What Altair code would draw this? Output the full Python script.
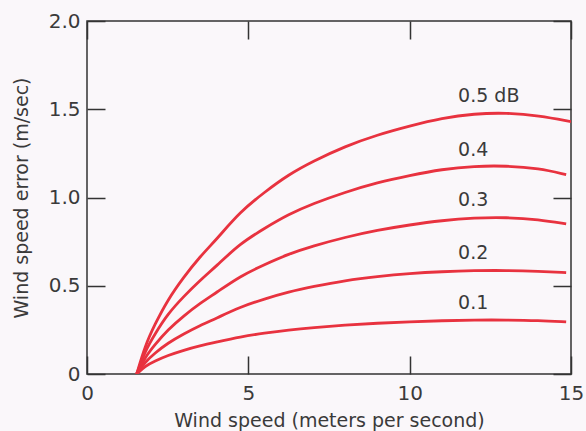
import altair as alt
import pandas as pd

# Wind speed (m/s) sample positions
wind = [1.54, 1.8, 2.1, 2.5, 3.0, 3.5, 4.0, 4.75, 5.5, 6.25, 7.0, 8.0, 9.0, 10.0, 11.0, 12.0, 13.0, 14.0]
err_05 = [0, 0.16, 0.28, 0.42, 0.55, 0.665, 0.76, 0.92, 1.03, 1.13, 1.205, 1.29, 1.355, 1.405, 1.45, 1.475, 1.48, 1.465]
err_04 = [0, 0.13, 0.225, 0.34, 0.44, 0.53, 0.61, 0.74, 0.825, 0.905, 0.965, 1.03, 1.085, 1.125, 1.16, 1.178, 1.18, 1.165]
err_03 = [0, 0.095, 0.165, 0.25, 0.33, 0.40, 0.46, 0.555, 0.62, 0.68, 0.725, 0.775, 0.815, 0.845, 0.87, 0.885, 0.888, 0.875]
err_02 = [0, 0.068, 0.118, 0.175, 0.228, 0.275, 0.315, 0.38, 0.425, 0.465, 0.495, 0.53, 0.553, 0.57, 0.58, 0.586, 0.587, 0.582]
err_01 = [0, 0.045, 0.073, 0.105, 0.135, 0.16, 0.18, 0.21, 0.232, 0.25, 0.263, 0.277, 0.288, 0.296, 0.302, 0.306, 0.306, 0.303]

# last point of each curve
end_x = [15.0, 14.85, 14.85, 14.85, 14.85]
end_y = [1.43, 1.13, 0.85, 0.574, 0.295]

series_names = ["0.5 dB", "0.4", "0.3", "0.2", "0.1"]
series_values = [err_05, err_04, err_03, err_02, err_01]

label_x = [11.5, 11.5, 11.5, 11.5, 11.5]
label_y = [1.575, 1.27, 0.985, 0.685, 0.40]

x_label_values = [0, 5, 10, 15]
y_label_values = [0, 0.5, 1.0, 1.5, 2.0]

X_MIN, X_MAX = 0, 15
Y_MIN, Y_MAX = 0, 2.0
W, H = 484, 353
TL = 18  # inward tick length, px

rows = []
for name, vals, ex, ey in zip(series_names, series_values, end_x, end_y):
    for x, y in zip(wind, vals):
        rows.append({"series": name, "wind": x, "err": y})
    rows.append({"series": name, "wind": ex, "err": ey})
df = pd.DataFrame(rows)
labels = pd.DataFrame({"label": series_names, "x": label_x, "y": label_y})

FONT = "DejaVu Sans"
TXT = "#3a3a3a"
RED = "#e8323f"
DARK = "#333333"

xscale = alt.Scale(domain=[X_MIN, X_MAX], nice=False, zero=False)
yscale = alt.Scale(domain=[Y_MIN, Y_MAX], nice=False)

# grid lines dashed so that only the first and last TL pixels show:
# this gives inward ticks on both opposite sides of the frame
x_grid_dash = [TL, H - 2 * TL, TL, 10000]
y_grid_dash = [TL, W - 2 * TL, TL, 10000]

lines = alt.Chart(df).mark_line(
    color=RED, strokeWidth=2.8, interpolate="basis", clip=True
).encode(
    x=alt.X("wind:Q", scale=xscale,
            axis=alt.Axis(title="Wind speed (meters per second)", values=x_label_values,
                          ticks=False, domain=False, grid=True, gridDash=x_grid_dash,
                          gridColor=DARK, gridWidth=1.5, gridOpacity=1,
                          labelFontSize=20, labelFont=FONT, labelColor=TXT, labelPadding=9,
                          titleFont=FONT, titleFontSize=19, titleFontWeight="normal",
                          titleColor=TXT, titlePadding=8, labelFlush=False)),
    y=alt.Y("err:Q", scale=yscale,
            axis=alt.Axis(title="Wind speed error (m/sec)", values=y_label_values,
                          labelExpr="datum.value == 0 ? '0' : format(datum.value, '.1f')",
                          ticks=False, domain=False, grid=True, gridDash=y_grid_dash,
                          gridColor=DARK, gridWidth=1.5, gridOpacity=1,
                          labelFontSize=20, labelFont=FONT, labelColor=TXT, labelPadding=7,
                          titleFont=FONT, titleFontSize=19, titleFontWeight="normal",
                          titleColor=TXT, titlePadding=17, labelFlush=False)),
    detail="series:N",
)

text = alt.Chart(labels).mark_text(
    align="left", baseline="middle", font=FONT, fontSize=19, color=TXT
).encode(
    x=alt.X("x:Q", scale=xscale),
    y=alt.Y("y:Q", scale=yscale),
    text="label:N",
)

chart = alt.layer(lines, text).properties(
    width=W, height=H,
    padding={"left": 87, "top": 21, "right": 15, "bottom": 57},
    autosize=alt.AutoSizeParams(type="none"),
    background="#faf7fa",
).configure_view(
    stroke=DARK, strokeWidth=1.5, fill="#faf7fa"
)

chart.save("out.html", embed_options={"renderer": "svg", "actions": False})
